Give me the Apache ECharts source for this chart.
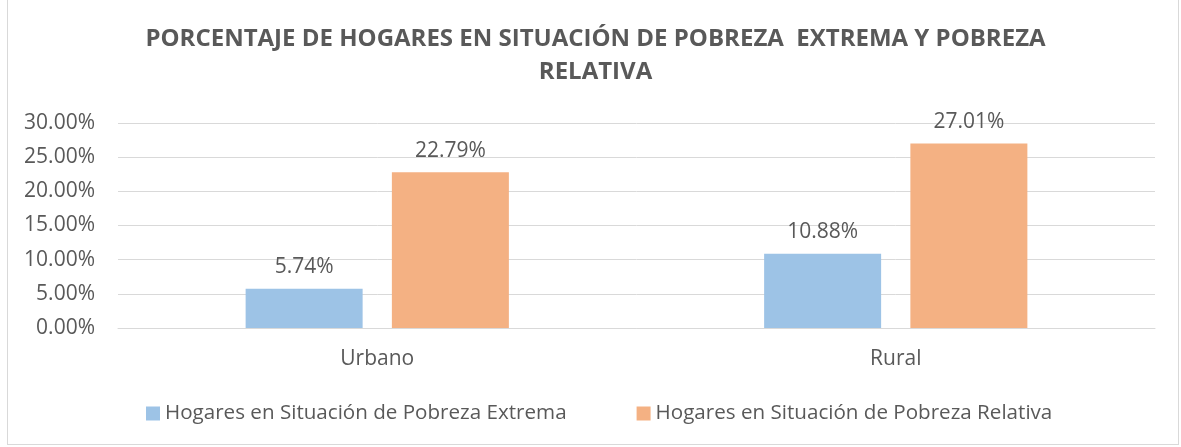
<!DOCTYPE html>
<html><head><meta charset="utf-8">
<script src="https://cdn.jsdelivr.net/npm/echarts@6/dist/echarts.min.js"></script>
<style>
html,body{margin:0;padding:0;background:#fff;}
#frame{position:absolute;left:7px;top:-2px;width:1172px;height:447px;border:1px solid #d9d9d9;box-sizing:border-box;}
#c{position:absolute;left:0;top:0;width:1181px;height:447px;}
</style></head>
<body><div id="frame"></div><div id="c"></div>
<script>
const categories = ['Urbano', 'Rural'];
const extrema = [5.74, 10.88];
const relativa = [22.79, 27.01];
const seriesNames = ['Hogares en Situación de Pobreza Extrema', 'Hogares en Situación de Pobreza Relativa'];
const titleText = 'PORCENTAJE DE HOGARES EN SITUACIÓN DE POBREZA  EXTREMA Y POBREZA\nRELATIVA';

const chart = echarts.init(document.getElementById('c'));
const font = '"Open Sans", sans-serif';
const txt = '#595959';
const fs = 21;
const lbl = {show:true, position:'top', distance:11, fontSize:fs, color:txt, fontFamily:font,
  formatter: p => p.value.toFixed(2) + '%'};
chart.setOption({
  animation:false,
  title:{text:titleText, left:'50%', top:18, textAlign:'center',
    textStyle:{fontSize:24, fontWeight:'bold', color:txt, fontFamily:font, lineHeight:33}},
  grid:{left:118, right:26, top:123, bottom:119, containLabel:false},
  legend:{bottom:18, left:141, itemWidth:14, itemHeight:14, itemGap:70, icon:'rect',
    textStyle:{fontSize:20.6, color:txt, fontFamily:font}},
  xAxis:{type:'category', data:categories,
    axisLine:{lineStyle:{color:'#d9d9d9'}}, axisTick:{show:false},
    axisLabel:{fontSize:fs, color:txt, fontFamily:font, margin:21}},
  yAxis:{type:'value', min:0, max:30, interval:5,
    axisLine:{show:false}, axisTick:{show:false},
    splitLine:{lineStyle:{color:'#d9d9d9', width:1}},
    axisLabel:{fontSize:fs, color:txt, fontFamily:font, margin:23, formatter:v => v.toFixed(2)+'%'}},
  series:[
    {name:seriesNames[0], type:'bar', data:extrema, barWidth:117, barGap:'25%', itemStyle:{color:'#9DC3E6'}, label:lbl},
    {name:seriesNames[1], type:'bar', data:relativa, barWidth:117, itemStyle:{color:'#F4B183'}, label:lbl}
  ]
});
</script></body></html>
